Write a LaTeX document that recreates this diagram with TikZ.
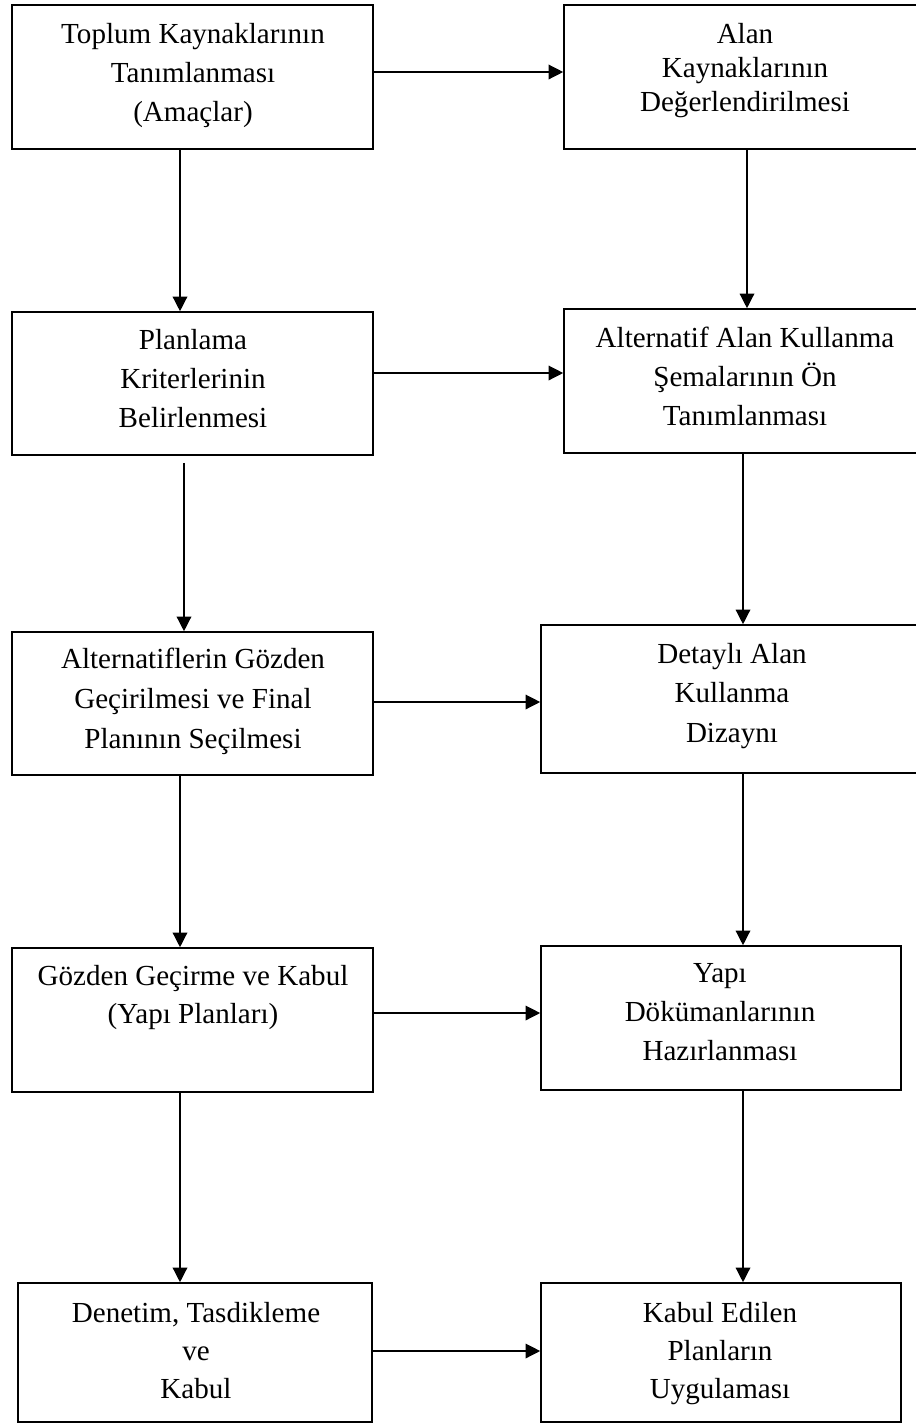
\documentclass[tikz,border=0pt]{standalone}
\usepackage{fontspec}
\setmainfont{Liberation Serif}
\usetikzlibrary{arrows.meta,calc}

\begin{document}
\begin{tikzpicture}[x=0.75pt, y=-0.75pt,
  stepbox/.style={draw, line width=1.2pt, rectangle, inner sep=0pt},
  txt/.style={align=center, inner sep=0pt, anchor=base,
    font=\fontsize{21.8pt}{#1}\selectfont},
  arr/.style={line width=1pt, -{Triangle[length=11pt, width=11pt]}}]

  \useasboundingbox (0,0) rectangle (916,1425);

  % boxes (centre, width x height in px)
  \node[stepbox, minimum width=270.75pt, minimum height=108pt]   (b1)  at (192.5,77)   {};
  \node[stepbox, minimum width=267pt,    minimum height=108pt]   (b2)  at (742,77)     {};
  \node[stepbox, minimum width=270.75pt, minimum height=107.25pt](b3)  at (192.5,383.5){};
  \node[stepbox, minimum width=267pt,    minimum height=108pt]   (b4)  at (742,381)    {};
  \node[stepbox, minimum width=270.75pt, minimum height=107.25pt](b5)  at (192.5,703.5){};
  \node[stepbox, minimum width=284.25pt, minimum height=111pt]   (b6)  at (730.5,699)  {};
  \node[stepbox, minimum width=270.75pt, minimum height=108pt]   (b7)  at (192.5,1020) {};
  \node[stepbox, minimum width=270pt,    minimum height=108pt]   (b8)  at (721,1018)   {};
  \node[stepbox, minimum width=265.5pt,  minimum height=104.25pt](b9)  at (195,1352.5) {};
  \node[stepbox, minimum width=270pt,    minimum height=104.25pt](b10) at (721,1352.5) {};

  % box texts (placed at the baseline of the last line)
  \node[txt=29.25pt] (t1)  at (193,121)  {Toplum Kaynaklarının\\Tanımlanması\\(Amaçlar)};
  \node[txt=25.5pt]  (t2)  at (745,111)  {Alan\\Kaynaklarının\\Değerlendirilmesi};
  \node[txt=29.25pt] (t3)  at (193,427)  {Planlama\\Kriterlerinin\\Belirlenmesi};
  \node[txt=29.25pt] (t4)  at (745,425)  {Alternatif Alan Kullanma\\Şemalarının Ön\\Tanımlanması};
  \node[txt=30pt]    (t5)  at (193,748)  {Alternatiflerin Gözden\\Geçirilmesi ve Final\\Planının Seçilmesi};
  \node[txt=29.6pt]  (t6)  at (732,742)  {Detaylı Alan\\Kullanma\\Dizaynı};
  \node[txt=28.5pt]  (t7)  at (193,1023) {Gözden Geçirme ve Kabul\\(Yapı Planları)};
  \node[txt=28.9pt]  (t8)  at (720,1060) {Yapı\\Dökümanlarının\\Hazırlanması};
  \node[txt=28.5pt]  (t9)  at (196,1398) {Denetim, Tasdikleme\\ve\\Kabul};
  \node[txt=28.5pt]  (t10) at (720,1398) {Kabul Edilen\\Planların\\Uygulaması};

  % horizontal connectors
  \draw[arr] (b1.east |- 0,72)   -- (b2.west |- 0,72);
  \draw[arr] (b3.east |- 0,373)  -- (b4.west |- 0,373);
  \draw[arr] (b5.east |- 0,702)  -- (b6.west |- 0,702);
  \draw[arr] (b7.east |- 0,1013) -- (b8.west |- 0,1013);
  \draw[arr] (b9.east |- 0,1351) -- (b10.west |- 0,1351);

  % vertical connectors
  \draw[arr] (b1.south -| 180,0) -- (b3.north -| 180,0);
  \draw[arr] (b2.south -| 747,0) -- (b4.north -| 747,0);
  \draw[arr] ($(b3.south -| 184,0)+(0,7)$) -- (b5.north -| 184,0);
  \draw[arr] (b4.south -| 743,0) -- (b6.north -| 743,0);
  \draw[arr] (b5.south -| 180,0) -- (b7.north -| 180,0);
  \draw[arr] (b6.south -| 743,0) -- (b8.north -| 743,0);
  \draw[arr] (b7.south -| 180,0) -- (b9.north -| 180,0);
  \draw[arr] (b8.south -| 743,0) -- (b10.north -| 743,0);
\end{tikzpicture}
\end{document}
